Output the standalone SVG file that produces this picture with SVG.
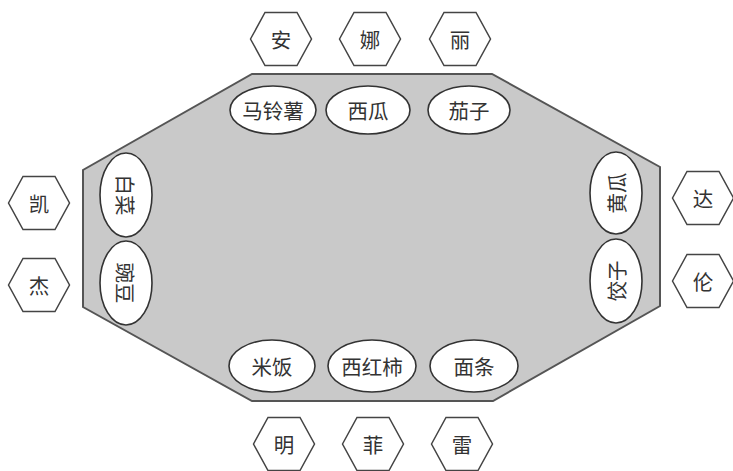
<svg xmlns="http://www.w3.org/2000/svg" xmlns:xlink="http://www.w3.org/1999/xlink" width="733" height="471" viewBox="0 0 733 471">
<style>
.t{font-family:"Noto Sans CJK SC","Noto Sans CJK JP",sans-serif;font-size:20.5px;fill:#333;text-anchor:middle;dominant-baseline:central}
.hex{fill:#fff;stroke:#444;stroke-width:1.5}
.dish{fill:#fff;stroke:#333;stroke-width:1.6}
.table{fill:#c9c9c9;stroke:#555;stroke-width:2}
</style>
<defs>
<polygon id="hex" points="-30.5,0 -16,-26.5 16,-26.5 30.5,0 16,26.5 -16,26.5"/>
</defs>
<rect width="733" height="471" fill="#fff"/>
<g id="table"><polygon class="table" points="252,74 492,74 660,167 660,306 493,401 252,401 83,307 83,170"/></g>
<g id="connectors"></g>
<g id="dish-malingshu"><ellipse class="dish" cx="273" cy="110" rx="43" ry="24"/><text class="t" x="273" y="110">马铃薯</text></g>
<g id="dish-xigua"><ellipse class="dish" cx="368" cy="110" rx="42" ry="24"/><text class="t" x="368" y="110">西瓜</text></g>
<g id="dish-qiezi"><ellipse class="dish" cx="469" cy="110" rx="41" ry="24"/><text class="t" x="469" y="110">茄子</text></g>
<g id="dish-mifan"><ellipse class="dish" cx="272" cy="366" rx="43" ry="26"/><text class="t" x="272" y="366">米饭</text></g>
<g id="dish-xihongshi"><ellipse class="dish" cx="372" cy="366" rx="44" ry="26"/><text class="t" x="372" y="366">西红柿</text></g>
<g id="dish-miantiao"><ellipse class="dish" cx="474" cy="366" rx="44" ry="26"/><text class="t" x="474" y="366">面条</text></g>
<g id="dish-baicai"><ellipse class="dish" cx="126" cy="195" rx="26" ry="42"/><text class="t" transform="translate(126 195) rotate(90)">白菜</text></g>
<g id="dish-wandou"><ellipse class="dish" cx="126" cy="283" rx="26" ry="42"/><text class="t" transform="translate(126 283) rotate(90)">豌豆</text></g>
<g id="dish-huanggua"><ellipse class="dish" cx="616" cy="193" rx="26" ry="41"/><text class="t" transform="translate(616 193) rotate(-90)">黄瓜</text></g>
<g id="dish-jiaozi"><ellipse class="dish" cx="616" cy="281" rx="26" ry="42"/><text class="t" transform="translate(616 281) rotate(-90)">饺子</text></g>
<g id="p-an"><use xlink:href="#hex" class="hex" x="281" y="39"/><text class="t" x="281" y="39">安</text></g>
<g id="p-na"><use xlink:href="#hex" class="hex" x="370" y="39"/><text class="t" x="370" y="39">娜</text></g>
<g id="p-li"><use xlink:href="#hex" class="hex" x="460" y="39"/><text class="t" x="460" y="39">丽</text></g>
<g id="p-kai"><use xlink:href="#hex" class="hex" x="39" y="203"/><text class="t" x="39" y="203">凯</text></g>
<g id="p-jie"><use xlink:href="#hex" class="hex" x="39" y="285"/><text class="t" x="39" y="285">杰</text></g>
<g id="p-da"><use xlink:href="#hex" class="hex" x="703" y="198"/><text class="t" x="703" y="198">达</text></g>
<g id="p-lun"><use xlink:href="#hex" class="hex" x="703" y="281"/><text class="t" x="703" y="281">伦</text></g>
<g id="p-ming"><use xlink:href="#hex" class="hex" x="284" y="444"/><text class="t" x="284" y="444">明</text></g>
<g id="p-fei"><use xlink:href="#hex" class="hex" x="373" y="444"/><text class="t" x="373" y="444">菲</text></g>
<g id="p-lei"><use xlink:href="#hex" class="hex" x="462" y="444"/><text class="t" x="462" y="444">雷</text></g>
</svg>
